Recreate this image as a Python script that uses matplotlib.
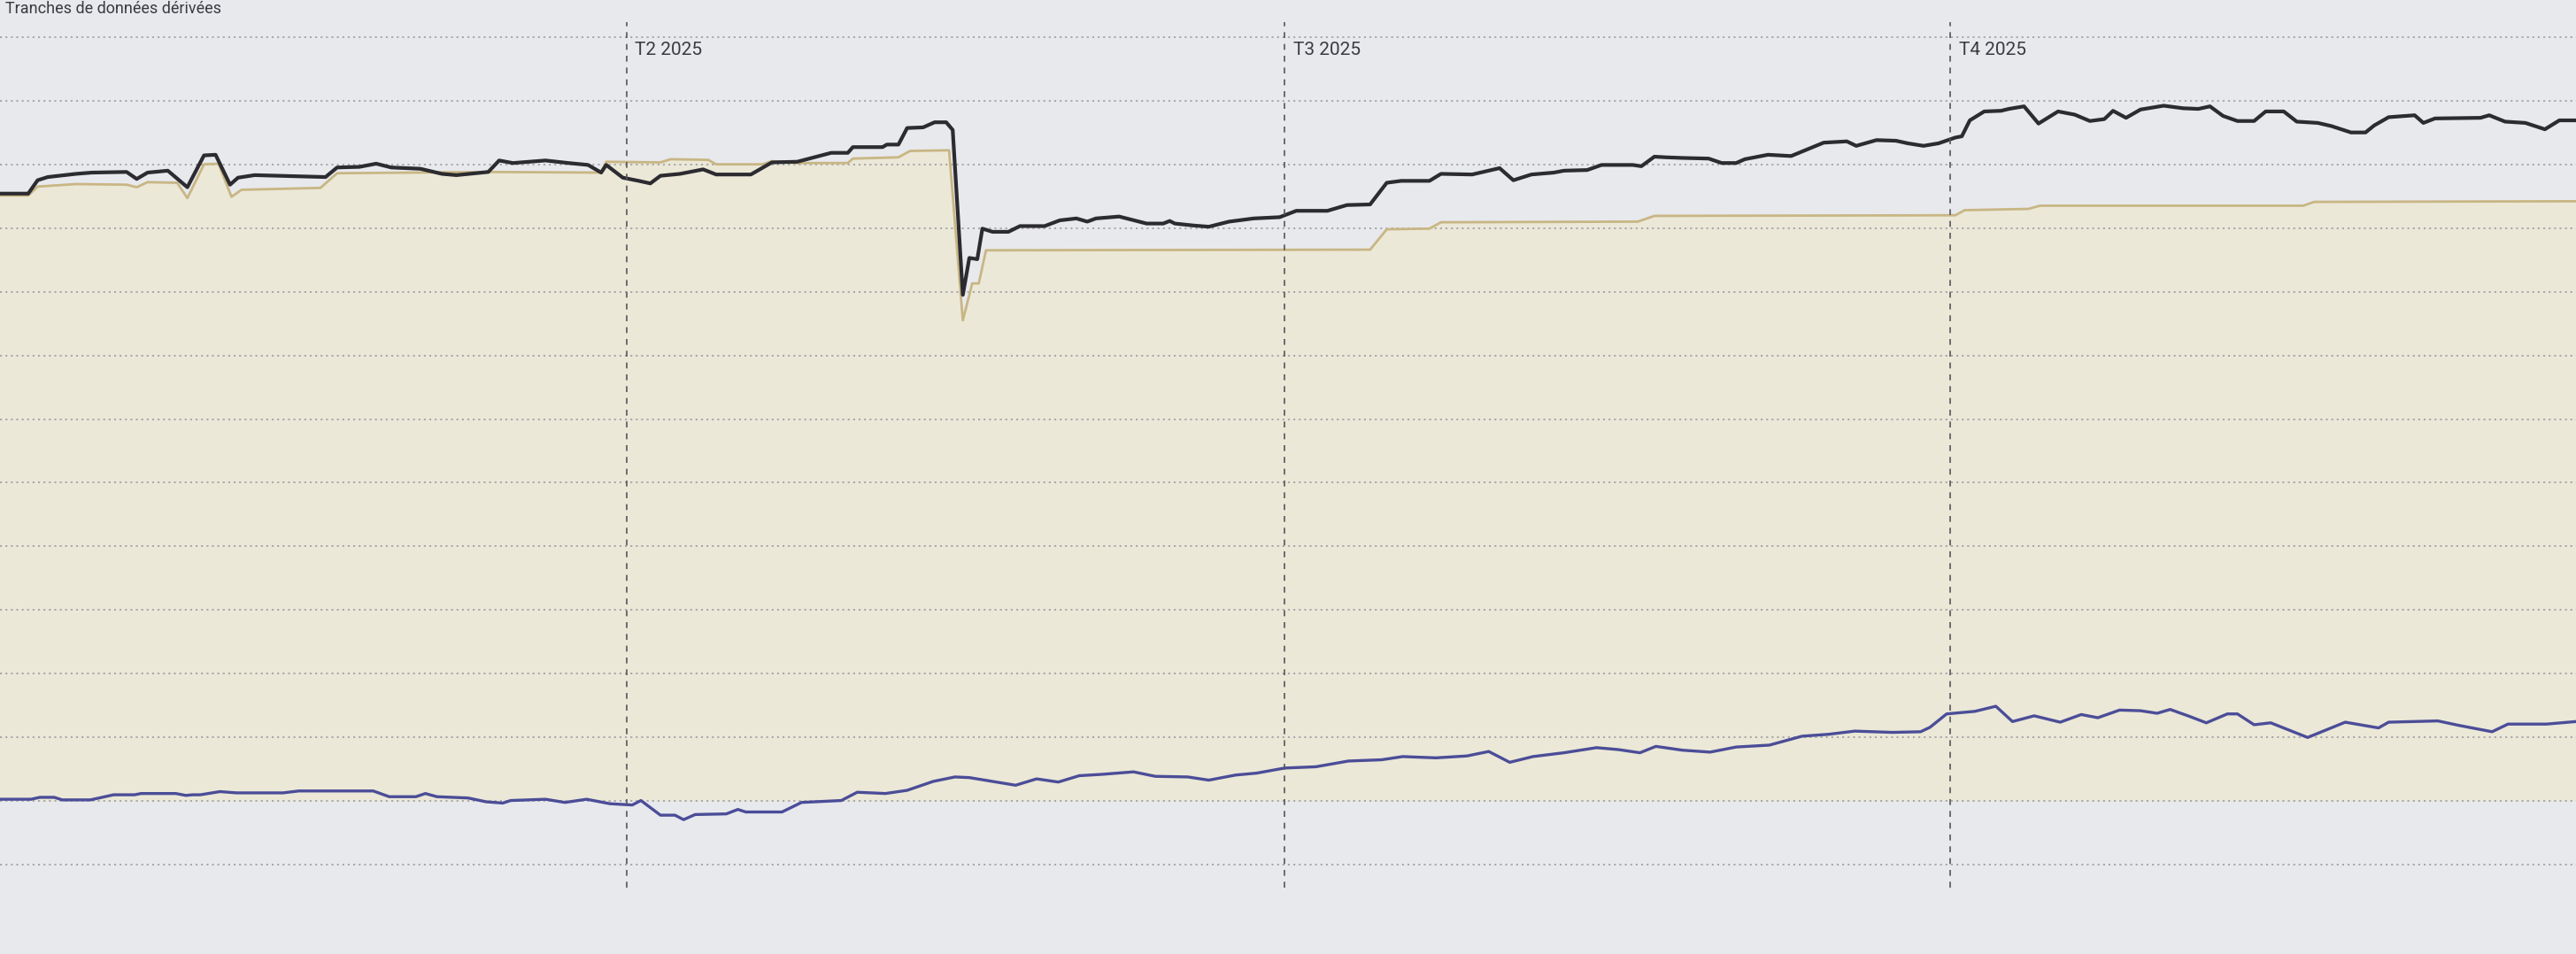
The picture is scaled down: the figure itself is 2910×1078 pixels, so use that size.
import numpy as np
import pandas as pd
import matplotlib.pyplot as plt

## data (x = day of 2025, y = grid units)
black_days = [3.4, 7.3, 8.6, 10.0, 13.9, 16.1, 20.9, 22.3, 23.8, 26.6, 29.3, 31.6, 33.2, 35.2, 36.3,
              38.6, 48.4, 50.0, 53.1, 55.4, 57.5, 61.5, 64.5, 66.5, 70.9, 72.4, 74.3, 78.8, 82.0,
              84.7, 86.5, 87.2, 89.5, 91.7, 93.3, 94.7, 97.4, 100.6, 102.4, 107.2, 110.1, 113.6,
              118.3, 120.6, 121.3, 125.4, 126.0, 127.6, 128.8, 131.0, 132.6, 134.2, 135.1, 136.5,
              137.4, 138.5, 139.2, 140.6, 142.8, 144.4, 147.8, 149.9, 152.2, 153.7, 154.9, 158.1,
              161.9, 164.2, 165.1, 165.8, 168.3, 170.5, 173.3, 176.7, 180.3, 182.6, 186.9, 189.6,
              192.8, 195.1, 197.1, 201.0, 202.6, 206.9, 209.2, 210.7, 212.6, 215.1, 218.2, 219.6,
              222.8, 224.8, 229.1, 230.3, 232.1, 233.7, 236.0, 239.6, 241.4, 243.4, 244.6, 247.8,
              251.0, 255.5, 258.7, 260.0, 262.8, 265.5, 267.1, 269.3, 271.4, 273.7, 274.6, 275.7,
              277.7, 280.0, 281.1, 283.2, 285.2, 287.9, 290.2, 292.3, 294.3, 295.5, 297.3, 299.3,
              302.5, 305.2, 307.3, 308.9, 310.7, 312.7, 315.0, 316.6, 319.1, 320.9, 323.8, 325.7,
              328.4, 330.4, 331.6, 333.6, 337.2, 338.4, 340.0, 346.3, 347.5, 349.7, 352.5, 355.2,
              357.2, 359.5]
black_vals = [9.54, 9.54, 9.75, 9.80, 9.85, 9.87, 9.88, 9.77, 9.87, 9.90, 9.64, 10.14, 10.15, 9.68, 9.79,
              9.83, 9.80, 9.95, 9.96, 10.01, 9.95, 9.93, 9.85, 9.83, 9.88, 10.06, 10.02, 10.06, 10.02,
              9.99, 9.87, 9.99, 9.79, 9.74, 9.70, 9.82, 9.85, 9.92, 9.84, 9.84, 10.03, 10.04,
              10.18, 10.18, 10.27, 10.27, 10.31, 10.31, 10.57, 10.58, 10.66, 10.66, 10.54, 7.95,
              8.53, 8.51, 8.99, 8.94, 8.94, 9.03, 9.03, 9.12, 9.15, 9.10, 9.15, 9.18,
              9.07, 9.07, 9.11, 9.07, 9.04, 9.02, 9.10, 9.15, 9.17, 9.27, 9.27, 9.36,
              9.37, 9.71, 9.74, 9.74, 9.85, 9.84, 9.90, 9.94, 9.75, 9.84, 9.87, 9.90,
              9.91, 9.99, 9.99, 9.97, 10.12, 10.11, 10.10, 10.09, 10.02, 10.02, 10.08, 10.15,
              10.13, 10.34, 10.36, 10.29, 10.38, 10.37, 10.33, 10.29, 10.33, 10.42, 10.44, 10.69,
              10.83, 10.84, 10.87, 10.91, 10.64, 10.83, 10.78, 10.68, 10.71, 10.84, 10.73, 10.86,
              10.92, 10.88, 10.87, 10.91, 10.76, 10.68, 10.68, 10.83, 10.83, 10.67, 10.65, 10.60,
              10.50, 10.50, 10.61, 10.74, 10.77, 10.65, 10.72, 10.73, 10.77, 10.67, 10.65, 10.55,
              10.69, 10.69]

tan_days = [3.4, 7.3, 8.6, 13.9, 20.9, 22.3, 23.8, 27.9, 29.3, 31.6, 33.6, 35.4, 36.8, 47.7, 50.0,
            70.9, 86.5, 87.2, 94.7, 96.1, 101.3, 102.4, 108.8, 110.1, 113.6, 120.6, 121.3, 127.6,
            129.2, 134.6, 136.5, 137.8, 138.7, 139.7, 192.8, 195.1, 201.0, 202.6, 229.8, 232.1,
            273.7, 275.0, 283.8, 285.4, 321.8, 323.3, 359.5]
tan_vals = [9.51, 9.51, 9.65, 9.69, 9.68, 9.64, 9.72, 9.71, 9.47, 10.00, 10.01, 9.49, 9.60, 9.63, 9.86,
            9.88, 9.87, 10.04, 10.03, 10.08, 10.07, 10.00, 10.00, 10.05, 10.02, 10.02, 10.09, 10.11,
            10.21, 10.22, 7.55, 8.13, 8.13, 8.65, 8.66, 8.98, 8.99, 9.09, 9.10, 9.19,
            9.20, 9.28, 9.30, 9.35, 9.35, 9.41, 9.42]

blue_days = [3.4, 7.7, 8.9, 10.9, 12.0, 15.9, 19.1, 22.0, 22.9, 27.7, 29.1, 30.0, 31.1, 33.8, 36.1,
             42.5, 44.7, 55.0, 57.2, 60.9, 62.2, 63.8, 68.1, 70.6, 72.9, 74.0, 78.8, 81.5, 84.5,
             87.7, 90.8, 92.0, 94.7, 96.7, 97.9, 99.5, 103.8, 105.4, 106.5, 111.5, 114.2, 119.7,
             121.9, 125.8, 128.8, 132.4, 135.4, 137.4, 140.6, 143.8, 146.7, 149.7, 152.6, 155.6,
             160.1, 163.1, 167.6, 170.5, 174.2, 177.1, 181.0, 185.3, 189.8, 194.4, 197.3, 201.9,
             206.2, 209.2, 212.1, 215.3, 219.6, 224.1, 227.1, 230.1, 232.3, 236.0, 239.8, 243.4,
             248.0, 252.5, 256.2, 259.8, 265.0, 268.9, 270.2, 272.5, 276.4, 279.3, 281.6, 284.6,
             288.2, 291.1, 293.4, 296.4, 299.3, 301.6, 303.4, 306.1, 308.4, 311.3, 312.7, 315.0,
             317.3, 322.4, 327.6, 332.2, 333.6, 340.4, 343.3, 347.9, 350.1, 355.4, 359.5]
blue_vals = [0.03, 0.03, 0.06, 0.06, 0.02, 0.02, 0.10, 0.10, 0.12, 0.12, 0.09, 0.10, 0.10, 0.15, 0.13,
             0.13, 0.16, 0.16, 0.07, 0.07, 0.12, 0.07, 0.05, -0.01, -0.03, 0.01, 0.03, -0.02, 0.03,
             -0.04, -0.06, 0.01, -0.22, -0.22, -0.29, -0.21, -0.20, -0.13, -0.17, -0.17, -0.02, 0.01,
             0.14, 0.12, 0.17, 0.31, 0.38, 0.37, 0.31, 0.25, 0.35, 0.30, 0.40, 0.42,
             0.46, 0.39, 0.38, 0.33, 0.41, 0.44, 0.52, 0.54, 0.63, 0.65, 0.70, 0.68,
             0.71, 0.78, 0.61, 0.70, 0.76, 0.84, 0.81, 0.76, 0.86, 0.80, 0.77, 0.85,
             0.88, 1.02, 1.05, 1.10, 1.08, 1.09, 1.16, 1.37, 1.41, 1.49, 1.25, 1.34,
             1.24, 1.36, 1.31, 1.43, 1.42, 1.38, 1.44, 1.33, 1.23, 1.37, 1.37, 1.20,
             1.23, 1.00, 1.24, 1.15, 1.24, 1.26, 1.19, 1.09, 1.21, 1.21, 1.25]

quarter_days = [90, 181, 273]
quarter_labels = ['T2 2025', 'T3 2025', 'T4 2025']
grid_levels = list(range(-1, 13))

start = pd.Timestamp('2025-01-01')
def to_dates(days):
    return start + pd.to_timedelta(np.array(days), unit='D')

fig = plt.figure(figsize=(29.1, 10.78), dpi=100)
fig.patch.set_facecolor('#e8e9ed')
ax = fig.add_axes([0, 0, 1, 1])
ax.set_facecolor('#e8e9ed')

tan_x = to_dates(tan_days)
ax.fill_between(tan_x, 0, tan_vals, color='#ebe8d7', zorder=1, lw=0)
ax.plot(tan_x, tan_vals, color='#c8b684', lw=2.0, zorder=3)
ax.plot(to_dates(black_days), black_vals, color='#2b2b30', lw=3.0, zorder=4)
ax.plot(to_dates(blue_days), blue_vals, color='#4b4d98', lw=2.4, zorder=4)

ax.set_yticks(grid_levels)
ax.grid(axis='y', color='#a3a3a8', linestyle=(0, (1.2, 2.2)), lw=1.3, zorder=2)
ax.set_axisbelow(False)

for d, lab in zip(quarter_days, quarter_labels):
    xq = start + pd.Timedelta(days=d)
    ax.axvline(xq, ymin=0.07, ymax=0.977, color='#55565c', lw=1.2,
               linestyle=(0, (4, 4)), zorder=5)
    ax.text(xq + pd.Timedelta(days=1.2), 11.8, lab, fontsize=15, family='Roboto',
            color='#3a3a40', va='center', ha='left', zorder=6)

# title line of the panel, mostly cut off in the photo
fig.text(0.002, 0.999, 'Tranches de données dérivées', fontsize=13, family='Roboto',
         color='#3a3a40', va='top', ha='left')

ax.set_xlim(to_dates([3.4])[0], to_dates([359.5])[0])
ax.set_ylim(-2.4, 12.58)
ax.tick_params(left=False, bottom=False, labelleft=False, labelbottom=False)
for s in ax.spines.values():
    s.set_visible(False)

fig.savefig('out.png', dpi=100, facecolor=fig.get_facecolor())
